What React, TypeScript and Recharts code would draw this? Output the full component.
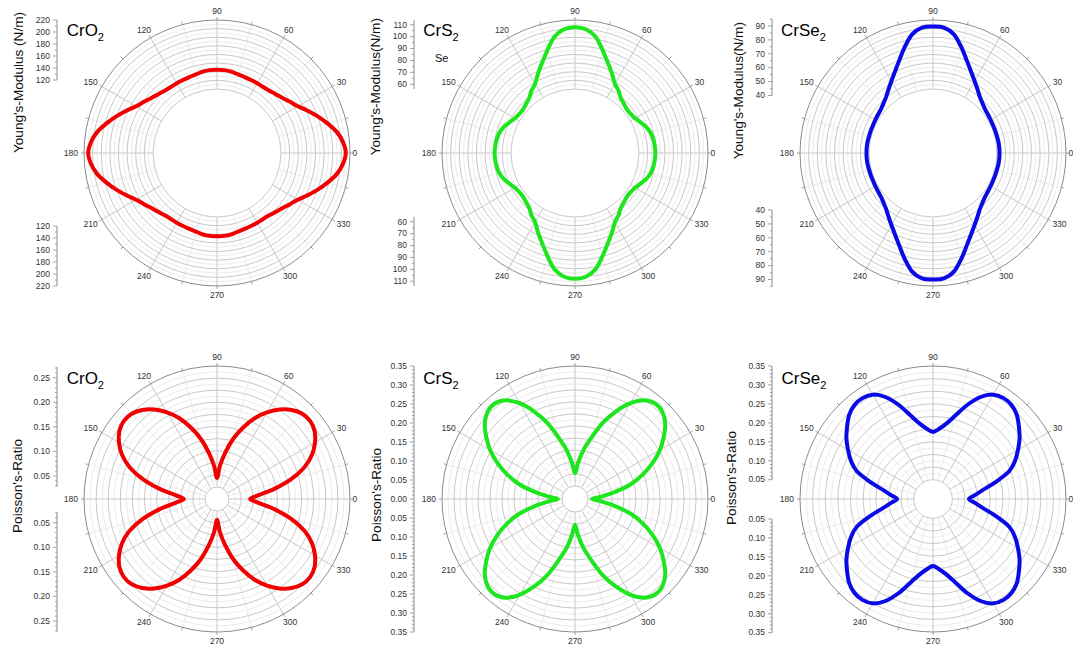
import React from 'react';
import {
  RadarChart,
  Radar,
  PolarGrid,
  PolarAngleAxis,
  PolarRadiusAxis,
  LineChart,
  YAxis,
} from 'recharts';

// sample directions, degrees counter-clockwise from +x
const ANGLES = [
  0, 5, 10, 15, 20, 25, 30, 35, 40, 45, 50, 55, 60, 65, 70, 75, 80, 85,
  90, 95, 100, 105, 110, 115, 120, 125, 130, 135, 140, 145, 150, 155, 160, 165, 170, 175,
  180, 185, 190, 195, 200, 205, 210, 215, 220, 225, 230, 235, 240, 245, 250, 255, 260, 265,
  270, 275, 280, 285, 290, 295, 300, 305, 310, 315, 320, 325, 330, 335, 340, 345, 350, 355,
];

// Young's modulus, N/m
const youngCrO2 = [
  213, 209, 201, 189, 177, 165, 154, 147, 141, 137, 134, 132.5, 132.5, 132.5, 133, 134, 136, 137, 137,
  137, 136, 134, 133, 132.5, 132.5, 132.5, 134, 137, 141, 147, 154, 165, 177, 189, 201, 209, 213,
  209, 201, 189, 177, 165, 154, 147, 141, 137, 134, 132.5, 132.5, 132.5, 133, 134, 136, 137, 137,
  137, 136, 134, 133, 132.5, 132.5, 132.5, 134, 137, 141, 147, 154, 165, 177, 189, 201, 209,
];
const youngCrS2 = [
  69.8, 69.5, 69.0, 68.0, 66.0, 63.0, 60.5, 59.4, 59.2, 60.5, 62.2, 66.0, 69.3, 75.8, 82.9, 91.8, 101.5, 106.6, 107.9,
  106.6, 101.5, 91.8, 82.9, 75.8, 69.3, 66.0, 62.2, 60.5, 59.2, 59.4, 60.5, 63.0, 66.0, 68.0, 69.0, 69.5, 69.8,
  69.5, 69.0, 68.0, 66.0, 63.0, 60.5, 59.4, 59.2, 60.5, 62.2, 66.0, 69.3, 75.8, 82.9, 91.8, 101.5, 106.6, 107.9,
  106.6, 101.5, 91.8, 82.9, 75.8, 69.3, 66.0, 62.2, 60.5, 59.2, 59.4, 60.5, 63.0, 66.0, 68.0, 69.0, 69.5,
];
const youngCrSe2 = [
  46.8, 46.8, 46.7, 46.5, 46.5, 46.5, 46.8, 47.2, 47.9, 49.4, 51.5, 54.8, 58.8, 63.7, 69.9, 77.8, 85.7, 89.6, 90.0,
  89.6, 85.7, 77.8, 69.9, 63.7, 58.8, 54.8, 51.5, 49.4, 47.9, 47.2, 46.8, 46.5, 46.5, 46.5, 46.7, 46.8, 46.8,
  46.8, 46.7, 46.5, 46.5, 46.5, 46.8, 47.2, 47.9, 49.4, 51.5, 54.8, 58.8, 63.7, 69.9, 77.8, 85.7, 89.6, 90.0,
  89.6, 85.7, 77.8, 69.9, 63.7, 58.8, 54.8, 51.5, 49.4, 47.9, 47.2, 46.8, 46.5, 46.5, 46.5, 46.7, 46.8,
];

// Poisson's ratio
const poissonCrO2 = [
  0.070, 0.086, 0.121, 0.159, 0.192, 0.216, 0.233, 0.245, 0.250, 0.248, 0.239, 0.225, 0.206, 0.184, 0.157, 0.129, 0.098, 0.070, 0.045,
  0.070, 0.098, 0.129, 0.157, 0.184, 0.206, 0.225, 0.239, 0.248, 0.250, 0.245, 0.233, 0.216, 0.192, 0.159, 0.121, 0.086, 0.070,
  0.086, 0.121, 0.159, 0.192, 0.216, 0.233, 0.245, 0.250, 0.248, 0.239, 0.225, 0.206, 0.184, 0.157, 0.129, 0.098, 0.070, 0.045,
  0.070, 0.098, 0.129, 0.157, 0.184, 0.206, 0.225, 0.239, 0.248, 0.250, 0.245, 0.233, 0.216, 0.192, 0.159, 0.121, 0.086,
];
const poissonCrS2 = [
  0.045, 0.068, 0.107, 0.153, 0.191, 0.226, 0.258, 0.285, 0.310, 0.325, 0.328, 0.317, 0.291, 0.254, 0.213, 0.167, 0.132, 0.097, 0.068,
  0.097, 0.132, 0.167, 0.213, 0.254, 0.291, 0.317, 0.328, 0.325, 0.310, 0.285, 0.258, 0.226, 0.191, 0.153, 0.107, 0.068, 0.045,
  0.068, 0.107, 0.153, 0.191, 0.226, 0.258, 0.285, 0.310, 0.325, 0.328, 0.317, 0.291, 0.254, 0.213, 0.167, 0.132, 0.097, 0.068,
  0.097, 0.132, 0.167, 0.213, 0.254, 0.291, 0.317, 0.328, 0.325, 0.310, 0.285, 0.258, 0.226, 0.191, 0.153, 0.107, 0.068,
];
const poissonCrSe2 = [
  0.094, 0.109, 0.131, 0.169, 0.213, 0.238, 0.258, 0.278, 0.295, 0.312, 0.322, 0.324, 0.317, 0.296, 0.263, 0.227, 0.201, 0.185, 0.176,
  0.185, 0.201, 0.227, 0.263, 0.296, 0.317, 0.324, 0.322, 0.312, 0.295, 0.278, 0.258, 0.238, 0.213, 0.169, 0.131, 0.109, 0.094,
  0.109, 0.131, 0.169, 0.213, 0.238, 0.258, 0.278, 0.295, 0.312, 0.322, 0.324, 0.317, 0.296, 0.263, 0.227, 0.201, 0.185, 0.176,
  0.185, 0.201, 0.227, 0.263, 0.296, 0.317, 0.324, 0.322, 0.312, 0.295, 0.278, 0.258, 0.238, 0.213, 0.169, 0.131, 0.109,
];

// angular ticks: every 15 deg, labelled every 30
const ANGLE_TICKS = [0, 15, 30, 45, 60, 75, 90, 105, 120, 135, 150, 165, 180, 195, 210, 225, 240, 255, 270, 285, 300, 315, 330, 345];
const MAJOR_SPOKES = [0, 30, 60, 90, 120, 150, 180, 210, 240, 270, 300, 330];
const MINOR_SPOKES = [15, 45, 75, 105, 135, 165, 195, 225, 255, 285, 315, 345];

// side scale labels
const crO2YoungLabels = [120, 140, 160, 180, 200, 220];
const crS2YoungLabels = [60, 70, 80, 90, 100, 110];
const crSe2YoungLabels = [40, 50, 60, 70, 80, 90];
const crO2PoissonLabels = [0.05, 0.1, 0.15, 0.2, 0.25];
const crS2PoissonLabels = [0, 0.05, 0.1, 0.15, 0.2, 0.25, 0.3, 0.35];
const crS2PoissonLowerLabels = [0.05, 0.1, 0.15, 0.2, 0.25, 0.3, 0.35];
const crSe2PoissonLabels = [0.05, 0.1, 0.15, 0.2, 0.25, 0.3, 0.35];

const RED = '#f00000';
const GREEN = '#1ee61e';
const BLUE = '#0a0ae6';
const FONT = "'Liberation Sans', Arial, Helvetica, sans-serif";
const AXIS_GRAY = '#8c8c8c';
const TEXT = '#333';
const R_OUT = 133;
const BOX = 320;

const steps = (from: number, to: number, step: number) => {
  const out: number[] = [];
  for (let v = from; v <= to + 1e-9; v += step) out.push(Math.round(v * 1000) / 1000);
  return out;
};

// closed Catmull-Rom loop through the radar points
function smoothLoop(pts: { x: number; y: number }[]) {
  const n = pts.length;
  if (n < 3) return '';
  let d = `M${pts[0].x},${pts[0].y}`;
  for (let i = 0; i < n; i++) {
    const p0 = pts[(i - 1 + n) % n];
    const p1 = pts[i];
    const p2 = pts[(i + 1) % n];
    const p3 = pts[(i + 2) % n];
    const c1x = p1.x + (p2.x - p0.x) / 6;
    const c1y = p1.y + (p2.y - p0.y) / 6;
    const c2x = p2.x - (p3.x - p1.x) / 6;
    const c2y = p2.y - (p3.y - p1.y) / 6;
    d += `C${c1x},${c1y} ${c2x},${c2y} ${p2.x},${p2.y}`;
  }
  return d + 'Z';
}

const TICK_GAP = 6;

function AngleTick(props: any) {
  const { x, y, payload } = props;
  const deg = payload.value;
  const a = (deg * Math.PI) / 180;
  const ux = Math.cos(a);
  const uy = -Math.sin(a);
  // point on the outer ring
  const ox = x - TICK_GAP * ux;
  const oy = y - TICK_GAP * uy;
  const label = String(deg);
  const w = label.length * 4.7;
  const h = 6.5;
  // the 0 label sits a little tighter against the ring
  const off = deg === 0 ? 2.5 : TICK_GAP;
  const lx = ox + off * ux + (ux * w) / 2;
  const ly = oy + off * uy + (uy * h) / 2;
  return (
    <g>
      <line x1={ox} y1={oy} x2={ox + 3 * ux} y2={oy + 3 * uy} stroke={AXIS_GRAY} strokeWidth={0.8} />
      {deg % 30 === 0 && (
        <text x={lx} y={ly} textAnchor="middle" dominantBaseline="central" fontSize={8.5} fill={TEXT}>
          {label}
        </text>
      )}
    </g>
  );
}

type Panel = {
  cx: number;
  cy: number;
  inner: number;
  domain: [number, number];
  rings: number;
  values: number[];
  color: string;
};

function PolarPanel({ p }: { p: Panel }) {
  const rows = ANGLES.map((angle, i) => ({ angle, v: p.values[i] }));
  const step = (R_OUT - p.inner) / p.rings;
  const major: number[] = [];
  for (let k = 0; k < p.rings; k++) major.push(p.inner + k * step);
  const minor = major.map((r) => r + step / 2);
  return (
    <div style={{ position: 'absolute', left: p.cx - BOX / 2, top: p.cy - BOX / 2 }}>
      <RadarChart
        width={BOX}
        height={BOX}
        data={rows}
        margin={{ top: 0, right: 0, bottom: 0, left: 0 }}
        cx={BOX / 2}
        cy={BOX / 2}
        innerRadius={p.inner}
        outerRadius={R_OUT}
        startAngle={0}
        endAngle={360}
      >
        <PolarGrid gridType="circle" polarAngles={MINOR_SPOKES} polarRadius={minor} stroke="#ececec" />
        <PolarGrid gridType="circle" polarAngles={MAJOR_SPOKES} polarRadius={major} stroke="#c8c8c8" />
        <PolarAngleAxis
          dataKey="angle"
          type="number"
          domain={[0, 360]}
          ticks={ANGLE_TICKS}
          tickSize={TICK_GAP}
          tickLine={false}
          axisLineType="circle"
          axisLine={{ stroke: AXIS_GRAY }}
          tick={(t: any) => <AngleTick {...t} />}
        />
        <PolarRadiusAxis
          type="number"
          domain={p.domain}
          allowDataOverflow
          allowDecimals
          tick={false}
          axisLine={false}
        />
        <Radar
          dataKey="v"
          stroke={p.color}
          fill="none"
          dot={false}
          isAnimationActive={false}
          shape={(s: any) => (
            <path
              d={smoothLoop(s.points)}
              fill="none"
              stroke={p.color}
              strokeWidth={4}
              strokeLinejoin="round"
            />
          )}
        />
      </RadarChart>
    </div>
  );
}

type Side = {
  axisX: number;
  yTop: number;
  yBottom: number;
  domain: [number, number];
  labels: number[];
  minors: number[];
  digits: number;
  reversed?: boolean;
};

function SideTick(props: any) {
  const { x, y, payload, labels, digits } = props;
  const v = payload.value;
  const major = labels.some((l: number) => Math.abs(l - v) < 1e-6);
  return (
    <g>
      <line x1={x - (major ? 4 : 2)} x2={x} y1={y} y2={y} stroke={AXIS_GRAY} strokeWidth={0.8} />
      {major && (
        <text x={x - 7} y={y} dy="0.33em" textAnchor="end" fontSize={8.5} fill={TEXT}>
          {v.toFixed(digits)}
        </text>
      )}
    </g>
  );
}

function SideAxis({ s }: { s: Side }) {
  const pad = 6;
  const h = s.yBottom - s.yTop + pad * 2;
  const ticks = [...s.labels, ...s.minors.filter((m) => !s.labels.some((l) => Math.abs(l - m) < 1e-6))].sort(
    (a, b) => a - b,
  );
  return (
    <div style={{ position: 'absolute', left: s.axisX - 60, top: s.yTop - pad }}>
      <LineChart
        width={64}
        height={h}
        data={s.labels.map((v) => ({ v }))}
        margin={{ top: pad, bottom: pad, left: 0, right: 0 }}
      >
        <YAxis
          type="number"
          dataKey="v"
          domain={s.domain}
          allowDataOverflow
          allowDecimals
          reversed={s.reversed}
          ticks={ticks}
          interval={0}
          width={60}
          tickLine={false}
          tickSize={0}
          tickMargin={0}
          axisLine={{ stroke: AXIS_GRAY }}
          tick={(t: any) => <SideTick {...t} labels={s.labels} digits={s.digits} />}
        />
      </LineChart>
    </div>
  );
}

const PANELS: Panel[] = [
  { cx: 217, cy: 152.5, inner: 64, domain: [105, 220], rings: 8, values: youngCrO2, color: RED },
  { cx: 575.3, cy: 152.5, inner: 64, domain: [56, 114], rings: 8, values: youngCrS2, color: GREEN },
  { cx: 932.5, cy: 152.5, inner: 64, domain: [45, 94.7], rings: 8, values: youngCrSe2, color: BLUE },
  { cx: 216.7, cy: 499.3, inner: 12, domain: [0.027, 0.2734], rings: 10, values: poissonCrO2, color: RED },
  { cx: 575, cy: 499.3, inner: 13, domain: [0.0342, 0.35], rings: 10, values: poissonCrS2, color: GREEN },
  { cx: 932.7, cy: 499.3, inner: 19.3, domain: [0.05, 0.35], rings: 9, values: poissonCrSe2, color: BLUE },
];

const poissonMinors = steps(0.01, 0.35, 0.01);

const SIDES: Side[] = [
  { axisX: 56.5, yTop: 19.5, yBottom: 79.5, domain: [120, 220], labels: crO2YoungLabels, minors: steps(130, 210, 20), digits: 0 },
  { axisX: 56.5, yTop: 225.5, yBottom: 285.5, domain: [120, 220], labels: crO2YoungLabels, minors: steps(130, 210, 20), digits: 0, reversed: true },
  { axisX: 414.3, yTop: 19.5, yBottom: 88.5, domain: [56, 114], labels: crS2YoungLabels, minors: steps(65, 105, 10), digits: 0 },
  { axisX: 414.3, yTop: 216.5, yBottom: 285.5, domain: [56, 114], labels: crS2YoungLabels, minors: steps(65, 105, 10), digits: 0, reversed: true },
  { axisX: 772.3, yTop: 19, yBottom: 95.5, domain: [40, 95], labels: crSe2YoungLabels, minors: steps(45, 95, 10), digits: 0 },
  { axisX: 772.3, yTop: 209.5, yBottom: 286, domain: [40, 95], labels: crSe2YoungLabels, minors: steps(45, 95, 10), digits: 0, reversed: true },
  { axisX: 56.5, yTop: 367, yBottom: 486.8, domain: [0.028, 0.272], labels: crO2PoissonLabels, minors: steps(0.03, 0.27, 0.01), digits: 2 },
  { axisX: 56.5, yTop: 511.8, yBottom: 631.6, domain: [0.028, 0.272], labels: crO2PoissonLabels, minors: steps(0.03, 0.27, 0.01), digits: 2, reversed: true },
  { axisX: 414, yTop: 366.3, yBottom: 499.3, domain: [0, 0.35], labels: crS2PoissonLabels, minors: poissonMinors, digits: 2 },
  { axisX: 414, yTop: 499.3, yBottom: 632.3, domain: [0, 0.35], labels: crS2PoissonLowerLabels, minors: poissonMinors, digits: 2, reversed: true },
  { axisX: 772.3, yTop: 366.3, yBottom: 480, domain: [0.05, 0.35], labels: crSe2PoissonLabels, minors: steps(0.06, 0.35, 0.01), digits: 2 },
  { axisX: 772.3, yTop: 518.6, yBottom: 632.3, domain: [0.05, 0.35], labels: crSe2PoissonLabels, minors: steps(0.06, 0.35, 0.01), digits: 2, reversed: true },
];

const TITLES = [
  { x: 66.7, y: 36, base: 'CrO' },
  { x: 423.3, y: 36, base: 'CrS' },
  { x: 781, y: 36, base: 'CrSe' },
  { x: 66.7, y: 383.5, base: 'CrO' },
  { x: 423.3, y: 384, base: 'CrS' },
  { x: 781.5, y: 384, base: 'CrSe' },
];

const AXIS_TITLES = [
  { x: 23, y: 82.5, text: "Young's-Modulus (N/m)" },
  { x: 380, y: 86.7, text: "Young's-Modulus(N/m)" },
  { x: 743, y: 90.7, text: "Young's-Modulus(N/m)" },
  { x: 22, y: 486, text: "Poisson's-Ratio" },
  { x: 380.5, y: 495, text: "Poisson's-Ratio" },
  { x: 735.5, y: 478, text: "Poisson's-Ratio" },
];

export default function App() {
  return (
    <div
      style={{
        position: 'absolute',
        left: 0,
        top: 0,
        width: 1073,
        height: 654,
        background: '#fff',
        overflow: 'hidden',
        fontFamily: FONT,
      }}
    >
      {PANELS.map((p, i) => (
        <PolarPanel key={`p${i}`} p={p} />
      ))}
      {SIDES.map((s, i) => (
        <SideAxis key={`s${i}`} s={s} />
      ))}
      <svg
        width={1073}
        height={654}
        style={{ position: 'absolute', left: 0, top: 0, pointerEvents: 'none', fontFamily: FONT }}
      >
        {TITLES.map((t, i) => (
          <text key={`t${i}`} x={t.x} y={t.y} fontSize={17} fill="#000">
            {t.base}
            <tspan fontSize={11} dy={5}>
              2
            </tspan>
          </text>
        ))}
        {AXIS_TITLES.map((t, i) => (
          <text
            key={`a${i}`}
            transform={`translate(${t.x},${t.y}) rotate(-90)`}
            textAnchor="middle"
            fontSize={13.6}
            fill="#111"
          >
            {t.text}
          </text>
        ))}
        <text x={435} y={61.5} fontSize={11} fill="#111">
          Se
        </text>
      </svg>
    </div>
  );
}
